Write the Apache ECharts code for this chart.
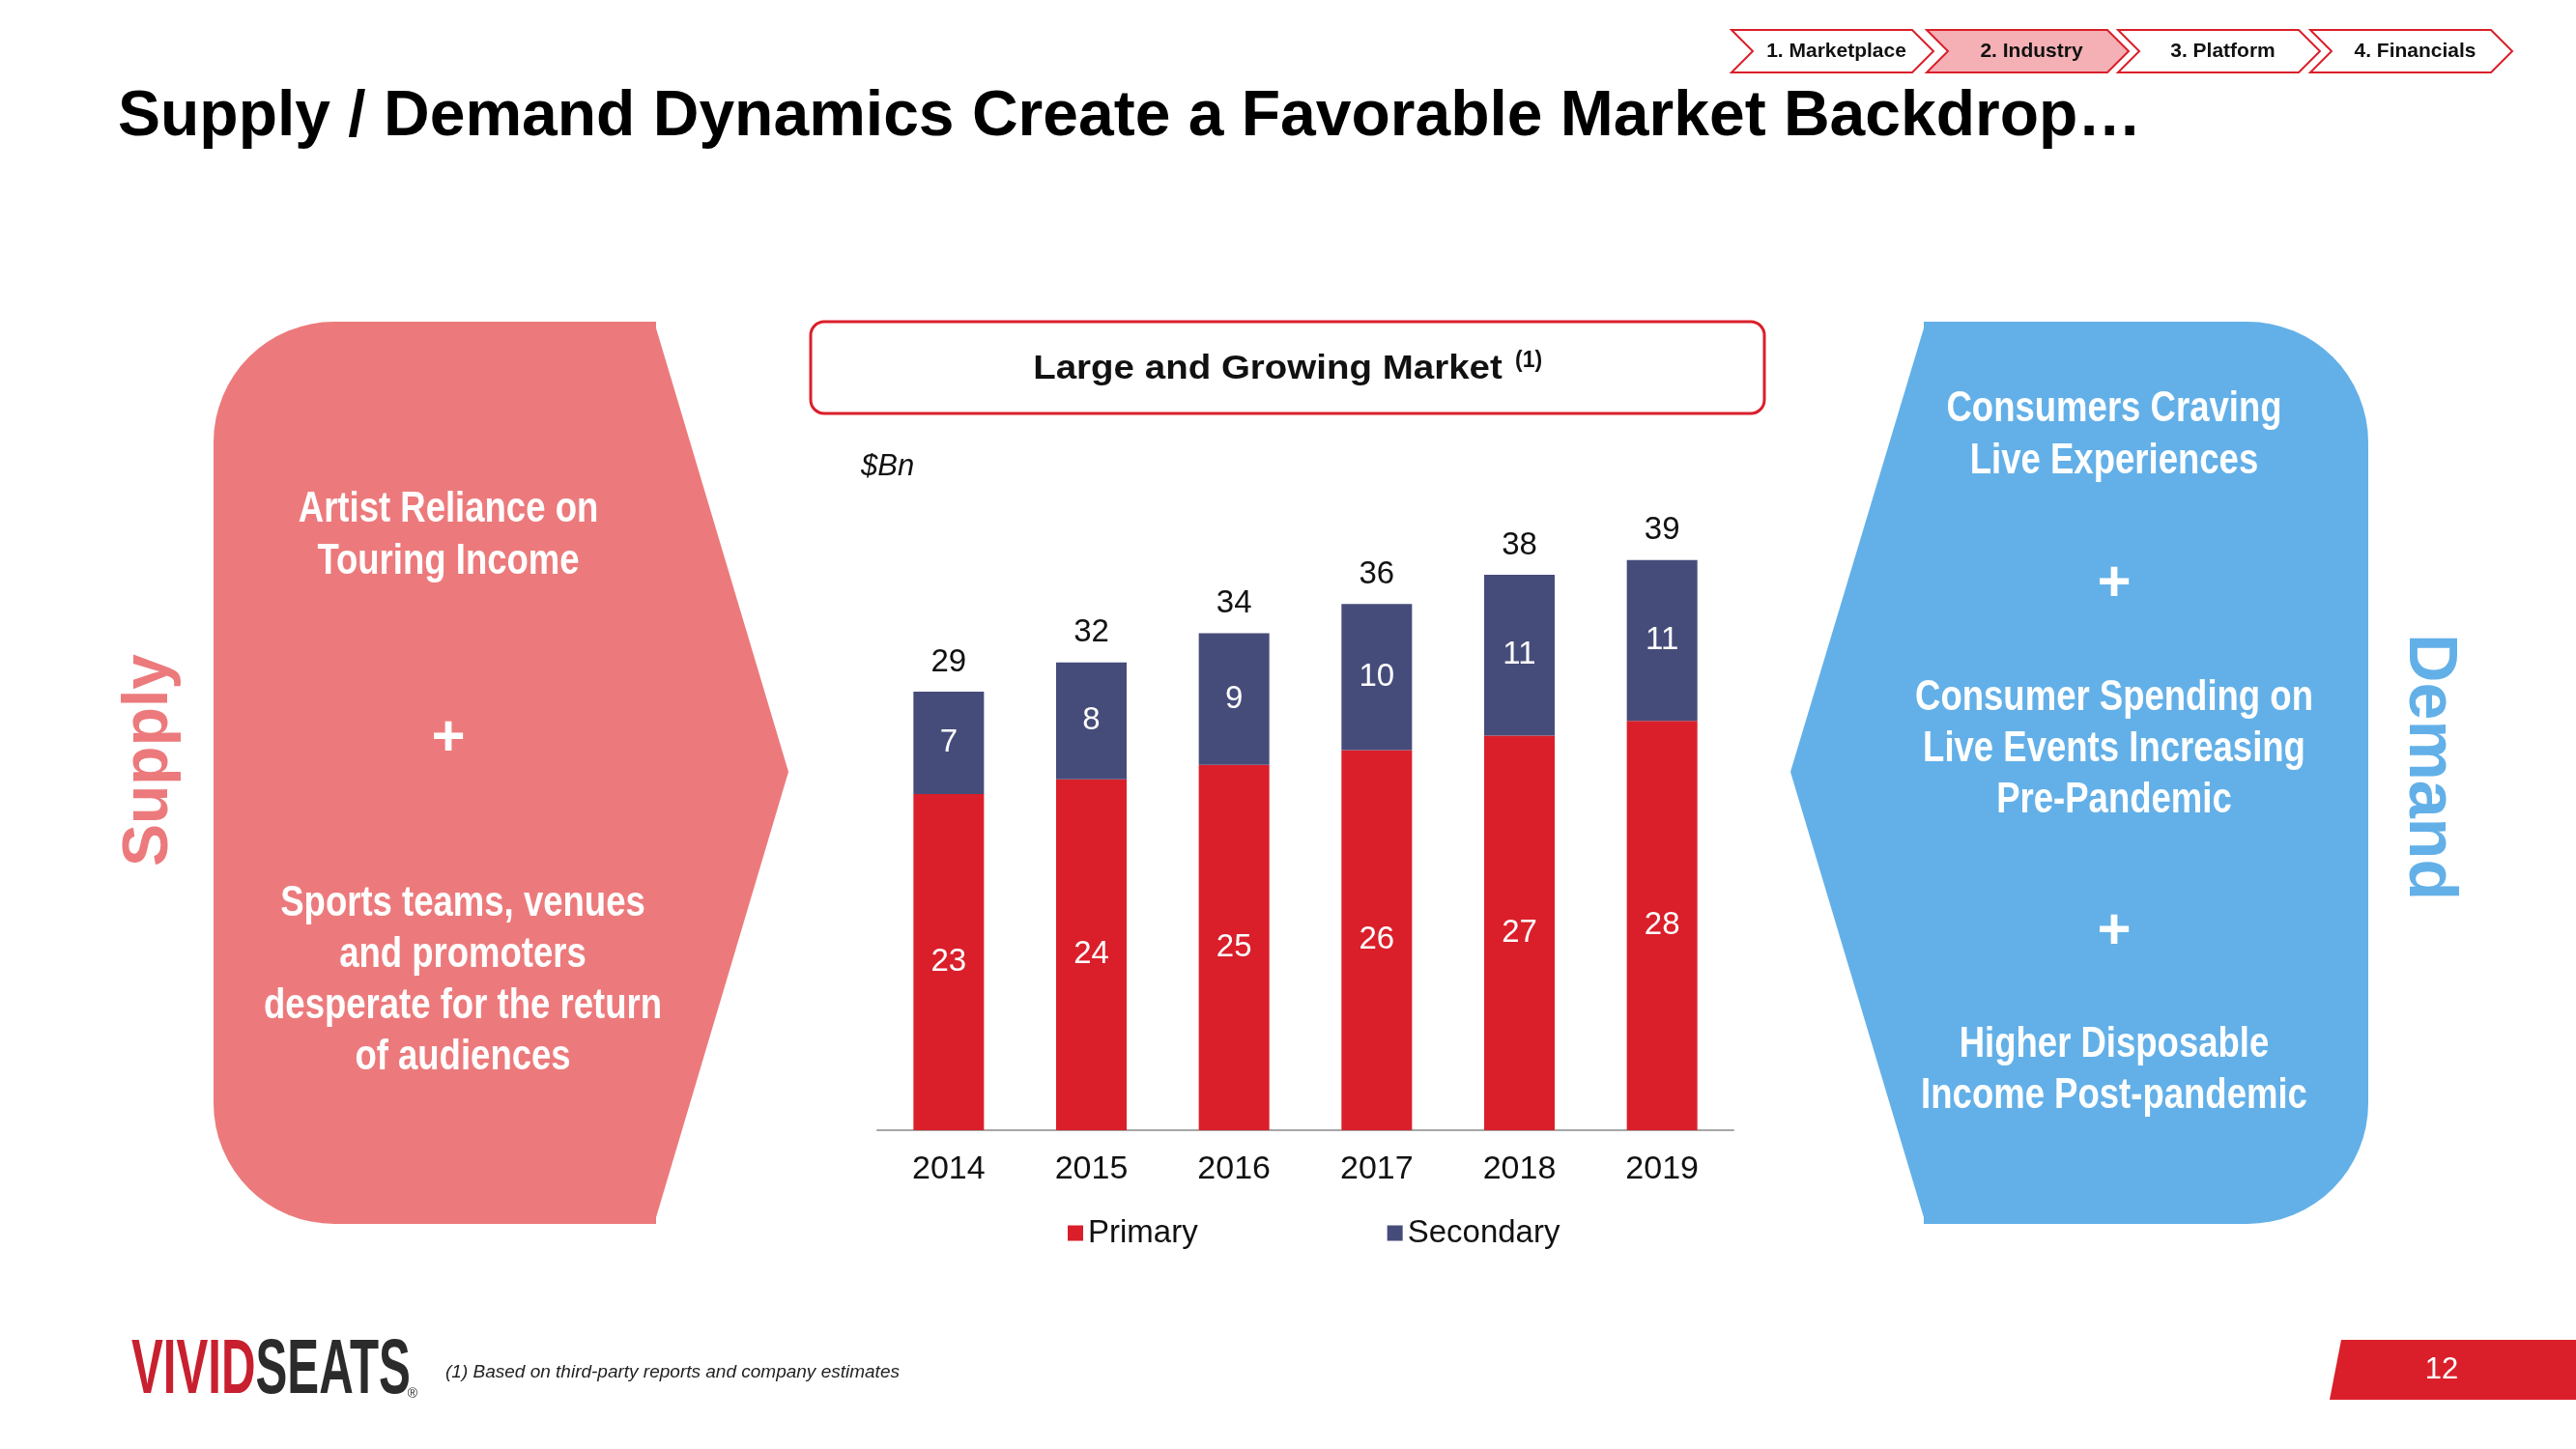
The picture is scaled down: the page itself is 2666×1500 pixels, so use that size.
<!DOCTYPE html>
<html><head><meta charset="utf-8">
<script src="https://cdn.jsdelivr.net/npm/echarts@6/dist/echarts.min.js"></script>
<style>html,body{margin:0;padding:0;background:#fff}#c{width:2666px;height:1500px}</style>
</head><body><div id="c"></div><script>
const years = ['2014', '2015', '2016', '2017', '2018', '2019'];
const primary = [23, 24, 25, 26, 27, 28];
const secondary = [7, 8, 9, 10, 11, 11];
const totals = [29, 32, 34, 36, 38, 39];
const tabs = ['1. Marketplace', '2. Industry', '3. Platform', '4. Financials'];
const supplyLines1 = ['Artist Reliance on', 'Touring Income'];
const supplyLines2 = ['Sports teams, venues', 'and promoters', 'desperate for the return', 'of audiences'];
const demandLines1 = ['Consumers Craving', 'Live Experiences'];
const demandLines2 = ['Consumer Spending on', 'Live Events Increasing', 'Pre-Pandemic'];
const demandLines3 = ['Higher Disposable', 'Income Post-pandemic'];

const RED = '#da1f2a', NAVY = '#464c7a', PINK = '#ec7a7c', BLUE = '#63b0e8';
const LS = '"Liberation Sans", Arial, sans-serif';
const NARROW = '"Liberation Sans Narrow", "Liberation Sans", Arial, sans-serif';

const g = [];
function txt(x, y, text, font, fill, align, extra) {
  return Object.assign({
    type: 'text', x: x, y: y,
    style: { text: text, x: 0, y: 0, font: font, fill: fill, textAlign: align || 'center', textVerticalAlign: 'middle' }
  }, extra || {});
}
// Title
g.push(txt(122, 122, 'Supply / Demand Dynamics Create a Favorable Market Backdrop\u2026', 'bold 66px ' + LS, '#000', 'left'));
// Nav tabs
const tabX = [1792, 1994, 2192, 2391];
tabs.forEach((t, i) => {
  const x = tabX[i], w = 209, d = 22, y0 = 31, y1 = 75, ym = 53;
  g.push({ type: 'polygon', shape: { points: [[x, y0], [x + w - d, y0], [x + w, ym], [x + w - d, y1], [x, y1], [x + d, ym]] },
    style: { fill: i === 1 ? '#f4b0b4' : '#fff', stroke: RED, lineWidth: 2 } });
  g.push(txt(x + w / 2 + 4, ym, t, 'bold 21px ' + LS, '#111'));
});
// Left supply shape
g.push({ type: 'rect', shape: { x: 221, y: 333, width: 458, height: 934, r: [125, 0, 0, 125] }, style: { fill: PINK } });
g.push({ type: 'polygon', shape: { points: [[677, 333], [816, 799], [677, 1267]] }, style: { fill: PINK } });
// Right demand shape
g.push({ type: 'rect', shape: { x: 1991, y: 333, width: 460, height: 934, r: [0, 125, 125, 0] }, style: { fill: BLUE } });
g.push({ type: 'polygon', shape: { points: [[1993, 333], [1853, 799], [1993, 1267]] }, style: { fill: BLUE } });

function block(lines, cx, y0, step) {
  lines.forEach((l, i) => g.push(txt(cx, y0 + i * step, l, 'bold 44px ' + LS, '#fff', 'center', { scaleX: 0.83 })));
}
block(supplyLines1, 464, 528, 54);
g.push(txt(464, 765, '+', 'bold 60px ' + LS, '#fff'));
block(supplyLines2, 479, 936, 53);
block(demandLines1, 2188, 424, 54);
g.push(txt(2188, 605, '+', 'bold 60px ' + LS, '#fff'));
block(demandLines2, 2188, 723, 53);
g.push(txt(2188, 965, '+', 'bold 60px ' + LS, '#fff'));
block(demandLines3, 2188, 1082, 53);
// Vertical labels
g.push(txt(155, 787, 'Supply', 'bold 66px ' + LS, PINK, 'center', { rotation: Math.PI / 2 }));
g.push(txt(2513, 794, 'Demand', 'bold 70px ' + LS, BLUE, 'center', { rotation: -Math.PI / 2 }));
// Chart title box
g.push({ type: 'rect', shape: { x: 839, y: 333, width: 987, height: 95, r: 14 }, style: { fill: '#fff', stroke: RED, lineWidth: 3 } });
g.push(txt(1312, 382, 'Large and Growing Market', 'bold 35px ' + LS, '#111', 'center', { scaleX: 1.1 }));
g.push(txt(1568, 374, '(1)', 'bold 23px ' + LS, '#111', 'left'));
g.push(txt(891, 483, '$Bn', 'italic 31px ' + LS, '#111', 'left'));
// Footer
g.push({ type: 'text', x: 136, y: 1420, scaleX: 0.615,
  style: { text: '{a|VIVID}{b|SEATS}', x: 0, y: 0, textAlign: 'left', textVerticalAlign: 'middle',
    rich: { a: { font: 'bold 80px ' + LS, fill: '#c8202f' }, b: { font: 'bold 80px ' + LS, fill: '#2b2b2b' } } } });
g.push(txt(427, 1443, '\u00AE', '14px ' + LS, '#2b2b2b', 'center'));
g.push(txt(461, 1421, '(1) Based on third-party reports and company estimates', 'italic 19px ' + LS, '#222', 'left'));
g.push({ type: 'polygon', shape: { points: [[2423, 1387], [2666, 1387], [2666, 1449], [2411, 1449]] }, style: { fill: RED } });
g.push(txt(2527, 1418, '12', '31px ' + LS, '#fff'));

const chart = echarts.init(document.getElementById('c'));
chart.setOption({
  animation: false,
  backgroundColor: '#fff',
  graphic: { elements: g },
  grid: { left: 908, right: 872, top: 489, bottom: 330, containLabel: false },
  legend: {
    data: ['Primary', 'Secondary'], left: 1100, top: 1255, icon: 'rect', itemWidth: 16, itemHeight: 16, itemGap: 196,
    textStyle: { fontSize: 33, color: '#111', fontFamily: NARROW }
  },
  xAxis: {
    type: 'category', data: years,
    axisLine: { lineStyle: { color: '#a6a6a6', width: 2 } }, axisTick: { show: false },
    axisLabel: { fontSize: 34, color: '#111', margin: 24, fontFamily: NARROW }
  },
  yAxis: { type: 'value', min: 0, max: 45, show: false, splitLine: { show: false } },
  series: [
    { name: 'Primary', type: 'bar', stack: 'a', barWidth: 73, data: primary, itemStyle: { color: RED },
      label: { show: true, position: 'inside', color: '#fff', fontSize: 33, fontFamily: NARROW } },
    { name: 'Secondary', type: 'bar', stack: 'a', barWidth: 73, data: secondary, itemStyle: { color: NAVY },
      label: { show: true, position: 'inside', color: '#fff', fontSize: 33, fontFamily: NARROW } },
    { name: 'Total', type: 'bar', stack: 'a', barWidth: 73, data: years.map(() => 0), itemStyle: { color: 'rgba(0,0,0,0)' },
      label: { show: true, position: 'top', distance: 14, color: '#111', fontSize: 33, fontFamily: NARROW,
        formatter: p => String(totals[p.dataIndex]) } }
  ]
});
</script></body></html>
